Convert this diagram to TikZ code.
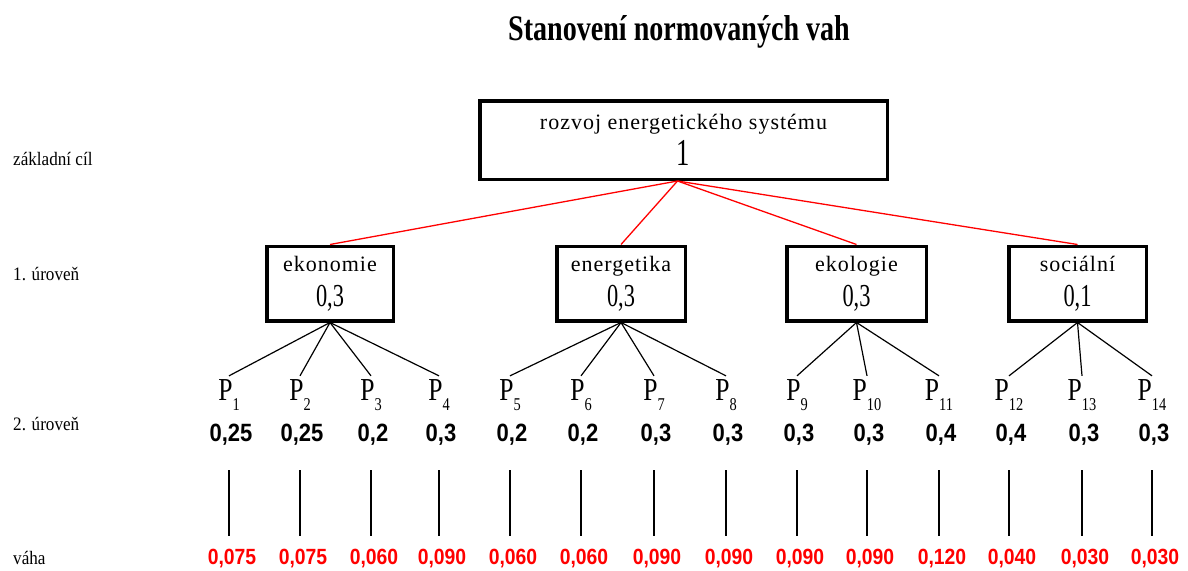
\documentclass[tikz,border=0pt]{standalone}
\usepackage{fontspec}
\setmainfont{Liberation Serif}
\newfontfamily\boxfont[LetterSpace=4.5]{Liberation Serif}
\newfontfamily\numfont[FakeStretch=0.7]{Liberation Serif}
\newfontfamily\headfont[FakeStretch=0.78]{Liberation Serif}
\newfontfamily\levfont[FakeStretch=0.9]{Liberation Serif}
\newfontfamily\pfont[FakeStretch=0.8]{Liberation Serif}
\newfontfamily\valfont[FakeStretch=0.88]{Liberation Sans}
\tikzset{
  goal/.style={draw,line width=3.5pt,minimum width=407.5pt,minimum height=78.5pt,inner sep=0pt,align=center,
    font=\fontsize{22}{36}\selectfont},
  crit/.style={draw,line width=3.5pt,minimum height=74.5pt,inner sep=0pt,align=center,
    font=\fontsize{22}{35}\selectfont},
  levlabel/.style={anchor=base west,inner sep=0pt,font=\levfont\fontsize{19}{19}\selectfont},
  pnode/.style={anchor=base,inner sep=3pt,font=\pfont\fontsize{32}{32}\selectfont},
  valnode/.style={anchor=base,inner sep=0pt,font=\valfont\bfseries\fontsize{25}{25}\selectfont},
  wnode/.style={anchor=base,inner sep=0pt,text=red,font=\valfont\bfseries\fontsize{22}{22}\selectfont},
  redline/.style={red,line width=1.3pt},
  blackline/.style={black,line width=1.2pt}
}
\begin{document}
\begin{tikzpicture}[x={(1pt,0)},y={(0,1pt)}]
  \useasboundingbox (0,0) rectangle (1188,-570);
  \node[anchor=base,inner sep=0pt,font=\headfont\bfseries\fontsize{36}{36}\selectfont] (titulek) at (679,-40) {Stanovení normovaných vah};
  % levels
  \node[levlabel] (l0) at (13,-165) {základní cíl};
  \node[levlabel] (l1) at (13,-280) {1. úroveň};
  \node[levlabel] (l2) at (13,-430) {2. úroveň};
  \node[levlabel] (l3) at (13,-564) {váha};
  % goal
  \node[goal] (cil) at (683.5,-140)
    {{\boxfont rozvoj energetického systému}\\
     {\numfont\fontsize{38}{38}\selectfont 1}};
  % criteria
  \foreach \n/\t/\x/\w/\v in {k1/ekonomie/330/126.5/{0,3}, k2/energetika/621/128.5/{0,3},
      k3/ekologie/856.5/139.5/{0,3}, k4/sociální/1077.5/137.5/{0,1}}
  { \node[crit,minimum width=\w pt] (\n) at (\x,-283.5)
      {{\boxfont \t}\\
       {\numfont\fontsize{32}{32}\selectfont \v}};
    \draw[redline] ([xshift=-6pt]cil.south) -- (\n.north);
  }
  % sub-criteria
  \foreach \x/\v/\w [count=\i] in {229/{0,25}/{0,075}, 300/{0,25}/{0,075}, 371/{0,2}/{0,060},
      439/{0,3}/{0,090}, 510/{0,2}/{0,060}, 581/{0,2}/{0,060}, 654/{0,3}/{0,090},
      726/{0,3}/{0,090}, 797/{0,3}/{0,090}, 867/{0,3}/{0,090}, 939/{0,4}/{0,120},
      1009/{0,4}/{0,040}, 1082/{0,3}/{0,030}, 1152/{0,3}/{0,030}}
  { \node[pnode] (p\i) at (\x,-400) {P\raisebox{-10pt}{\fontsize{18}{18}\selectfont\i}};
    \node[valnode] (v\i) at (\x+2,-441) {\v};
    \node[wnode] (w\i) at (\x+3,-564) {\w};
    \draw[blackline,shorten <=25pt,shorten >=12pt] (v\i.south -| p\i) -- (w\i.north -| p\i);
  }
  \foreach \i in {1,...,4} {\draw[blackline] (k1.south) -- (p\i.north);}
  \foreach \i in {5,...,8} {\draw[blackline] (k2.south) -- (p\i.north);}
  \foreach \i in {9,10,11} {\draw[blackline] (k3.south) -- (p\i.north);}
  \foreach \i in {12,13,14} {\draw[blackline] (k4.south) -- (p\i.north);}
\end{tikzpicture}
\end{document}
